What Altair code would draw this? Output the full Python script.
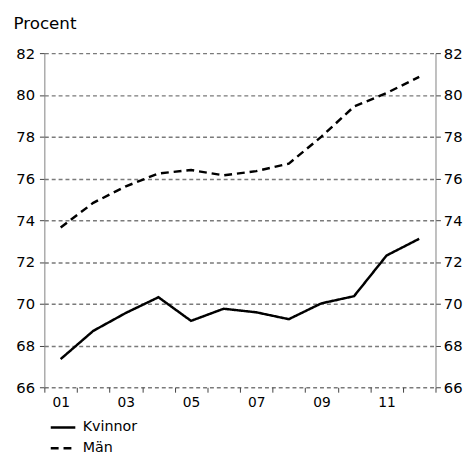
import altair as alt
import pandas as pd

years = ["01", "02", "03", "04", "05", "06", "07", "08", "09", "10", "11", "12"]
shown_labels = ["01", "03", "05", "07", "09", "11"]
kvinnor = [67.35, 68.7, 69.56, 70.31, 69.18, 69.76, 69.59, 69.26, 70.02, 70.36, 72.31, 73.11]
man = [73.65, 74.83, 75.62, 76.24, 76.4, 76.15, 76.35, 76.71, 78.0, 79.44, 80.09, 80.86]
series = ["Kvinnor", "Män"]
y_ticks = [66, 68, 70, 72, 74, 76, 78, 80, 82]

rows = []
for i, y in enumerate(years):
    rows.append({"year": y, "value": kvinnor[i], "serie": series[0]})
    rows.append({"year": y, "value": man[i], "serie": series[1]})
df = pd.DataFrame(rows)

label_expr = "indexof(" + str(shown_labels) + ", datum.value) >= 0 ? datum.value : ''"

x_enc = alt.X(
    "year:N",
    sort=years,
    scale=alt.Scale(type="band", paddingInner=0, paddingOuter=0),
    axis=alt.Axis(
        title=None,
        tickBand="extent",
        labelExpr=label_expr,
        labelAngle=0,
        domain=False,
        ticks=True,
        tickSize=5,
        tickColor="#404040",
        labelPadding=4,
        labelFontSize=14,
        labelColor="black",
        grid=False,
    ),
)

y_scale = alt.Scale(domain=[66, 82], nice=False, zero=False)

lines = alt.Chart(df).mark_line(color="black", strokeWidth=2.5).encode(
    x=x_enc,
    y=alt.Y(
        "value:Q",
        scale=y_scale,
        axis=alt.Axis(
            orient="left",
            values=y_ticks,
            title="Procent",
            titleAngle=0,
            titleAlign="left",
            titleBaseline="alphabetic",
            titleX=-32,
            titleY=-25,
            titleFontSize=17,
            titleFontWeight="normal",
            titleColor="black",
            grid=True,
            gridDash=[4, 3],
            gridColor="#7a7a7a",
            gridWidth=1.5,
            gridOpacity=1,
            domainColor="#808080",
            domainWidth=1,
            tickColor="#404040",
            tickSize=5,
            labelFontSize=15,
            labelColor="black",
            labelPadding=5,
        ),
    ),
    strokeDash=alt.StrokeDash(
        "serie:N",
        scale=alt.Scale(domain=series, range=[[1, 0], [8, 5]]),
        legend=alt.Legend(
            title=None,
            orient="none",
            legendX=5,
            legendY=367,
            symbolType="stroke",
            symbolStrokeColor="black",
            symbolStrokeWidth=2.5,
            symbolSize=625,
            labelFontSize=14.5,
            labelColor="black",
            labelOffset=6,
            rowPadding=-9,
            padding=0,
        ),
    ),
    detail="serie:N",
)

right = alt.Chart(df).mark_line(opacity=0).encode(
    x=alt.X("year:N", sort=years),
    y=alt.Y(
        "value:Q",
        scale=y_scale,
        axis=alt.Axis(
            orient="right",
            values=y_ticks,
            title=None,
            grid=False,
            domainColor="#808080",
            domainWidth=1,
            tickColor="#404040",
            tickSize=5,
            labelFontSize=15,
            labelColor="black",
            labelPadding=3,
        ),
    ),
    detail="serie:N",
)

chart = (
    alt.layer(lines, right)
    .resolve_axis(y="independent")
    .properties(
        width=398,
        height=340,
        autosize=alt.AutoSizeParams(type="none"),
        padding={"left": 37, "top": 42, "right": 29, "bottom": 65},
    )
    .configure(font="DejaVu Sans")
    .configure_view(stroke=None)
)

chart.save("out.html", embed_options={"renderer": "svg", "actions": False})
